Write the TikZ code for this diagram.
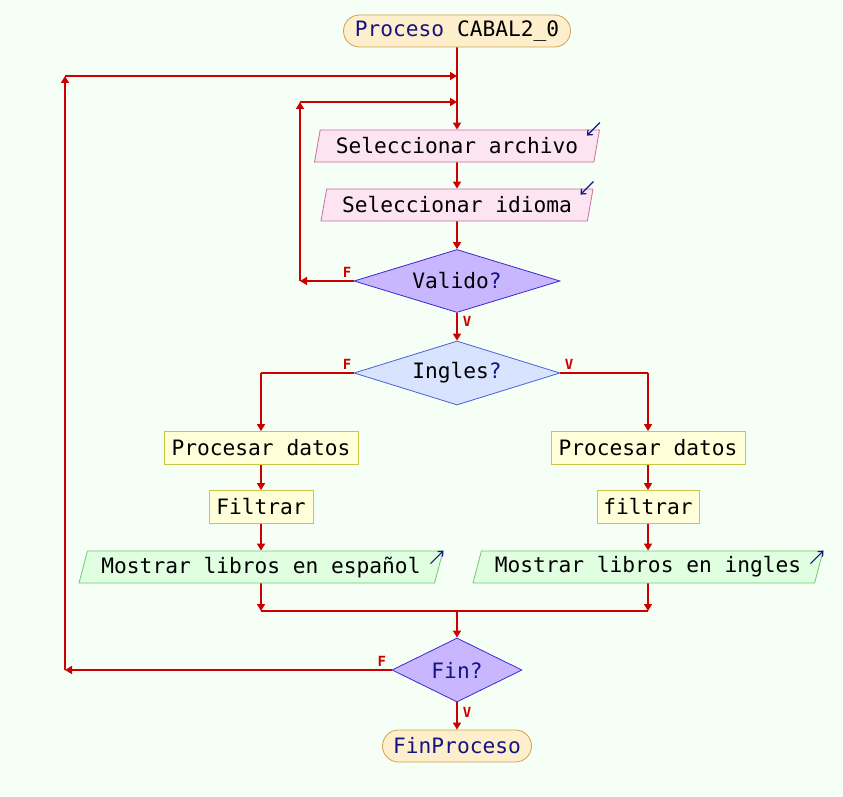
\documentclass[tikz,border=0pt]{standalone}
\usepackage{fontspec}
\setmonofont{DejaVu Sans Mono}
\usetikzlibrary{positioning, arrows.meta, shapes.geometric, calc}

\definecolor{fondo}{RGB}{246,255,246}
\definecolor{linea}{RGB}{204,0,0}
\definecolor{azul}{RGB}{20,20,130}
\definecolor{iniFill}{RGB}{253,239,203}
\definecolor{iniDraw}{RGB}{210,160,80}
\definecolor{leerFill}{RGB}{252,228,240}
\definecolor{leerDraw}{RGB}{200,110,160}
\definecolor{procFill}{RGB}{255,255,218}
\definecolor{procDraw}{RGB}{200,200,70}
\definecolor{escFill}{RGB}{224,255,224}
\definecolor{escDraw}{RGB}{110,200,110}
\definecolor{decFill}{RGB}{200,182,255}
\definecolor{decDraw}{RGB}{60,40,210}
\definecolor{segFill}{RGB}{216,228,255}
\definecolor{segDraw}{RGB}{70,100,210}

\begin{document}
\begin{tikzpicture}[
    x=1pt, y=-1pt,
    every node/.style={font=\ttfamily\fontsize{21.2}{22}\selectfont, inner sep=0pt},
    flecha/.style={draw=linea, line width=1.6pt, -{Triangle[length=7pt,width=8pt]}},
    linea/.style={draw=linea, line width=1.6pt},
    icono/.style={draw=azul, line width=1.2pt, -{Straight Barb[length=4pt,width=7pt]}},
    etiq/.style={text=linea, font=\ttfamily\bfseries\fontsize{14}{14}\selectfont},
    inicio/.style={draw=iniDraw, fill=iniFill, line width=0.8pt, rounded corners=16pt, minimum height=32pt},
    leer/.style={trapezium, trapezium left angle=71, trapezium right angle=109, trapezium stretches body,
        draw=leerDraw, fill=leerFill, line width=0.8pt, minimum height=32pt},
    proc/.style={rectangle, draw=procDraw, fill=procFill, line width=0.8pt, minimum height=33pt},
    escribir/.style={trapezium, trapezium left angle=68, trapezium right angle=112, trapezium stretches body,
        draw=escDraw, fill=escFill, line width=0.8pt, minimum height=32pt},
    decision/.style={diamond, aspect=3.3, line width=0.8pt, minimum width=206pt, minimum height=63pt}
]
    % fondo y margenes
    \fill[fondo] (0,0) rectangle (843,797);
    \useasboundingbox (0,0) rectangle (843,797);

    % nodos
    \node[inicio, minimum width=227pt] (ini) at (457,31) {\textcolor{azul}{Proceso} CABAL2\_0};
    \node[leer, minimum width=285pt] (selA) at (457,146) {Seleccionar archivo};
    \node[leer, minimum width=272pt] (selI) at (457,205) {Seleccionar idioma};
    \node[decision, draw=decDraw, fill=decFill] (valido) at (457,281) {Valido\textcolor{azul}{?}};
    \node[decision, draw=segDraw, fill=segFill, minimum height=64pt] (ingles) at (457,373) {Ingles\textcolor{azul}{?}};

    \node[proc, minimum width=194pt] (procI) at (261,448) {Procesar datos};
    \node[proc, minimum width=104pt] (filI) at (261,507) {Filtrar};
    \node[escribir, minimum width=364pt] (mosI) at (261,567) {Mostrar libros en español};

    \node[proc, minimum width=194pt] (procD) at (648,448) {Procesar datos};
    \node[proc, minimum width=102pt] (filD) at (648,507) {filtrar};
    \node[escribir, minimum width=350pt] (mosD) at (648,567) {Mostrar libros en ingles};

    \node[decision, draw=decDraw, fill=decFill, aspect=2, minimum width=130pt, minimum height=64pt] (fin) at (457,670) {\textcolor{azul}{Fin?}};
    \node[inicio, minimum width=149pt] (fp) at (457,746) {\textcolor{azul}{FinProceso}};

    % iconos de lectura / escritura
    \draw[icono] ($(selA.top right corner)+(0,-7)$) -- ++(-13,13);
    \draw[icono] ($(selI.top right corner)+(0,-7)$) -- ++(-13,13);
    \draw[icono] ($(mosI.top right corner)+(-13,13)$) -- ++(13,-13);
    \draw[icono] ($(mosD.top right corner)+(-13,13)$) -- ++(13,-13);

    % puntos de paso
    \coordinate (o1) at (65,670);
    \coordinate (o2) at (65,76);
    \coordinate (o3) at (457,76);
    \coordinate (r1) at (300,281);
    \coordinate (r2) at (300,102);
    \coordinate (r3) at (457,102);
    \coordinate (fI) at (261,373);
    \coordinate (fD) at (648,373);
    \coordinate (jI) at (261,611);
    \coordinate (jD) at (648,611);
    \coordinate (jM) at (457,611);

    % conectores
    \draw[flecha] (ini.south) -- (selA.north);
    \draw[flecha] (selA.south) -- (selI.north);
    \draw[flecha] (selI.south) -- (valido.north);
    \draw[flecha] (valido.south) -- (ingles.north) node[etiq, pos=0.3, right=5pt] {V};
    \draw[flecha] (valido.west) -- (r1) node[etiq, pos=0.12, above=3pt] {F};
    \draw[flecha] (r1) -- (r2);
    \draw[flecha] (r2) -- (r3);

    \draw[linea] (ingles.west) -- (fI) node[etiq, pos=0.07, above=3pt] {F};
    \draw[flecha] (fI) -- (procI.north);
    \draw[linea] (ingles.east) -- (fD) node[etiq, pos=0.1, above=3pt] {V};
    \draw[flecha] (fD) -- (procD.north);

    \draw[flecha] (procI.south) -- (filI.north);
    \draw[flecha] (filI.south) -- (mosI.north);
    \draw[flecha] (procD.south) -- (filD.north);
    \draw[flecha] (filD.south) -- (mosD.north);

    \draw[flecha] (mosI.south) -- (jI);
    \draw[flecha] (mosD.south) -- (jD);
    \draw[linea] (jI) -- (jD);
    \draw[flecha] (jM) -- (fin.north);

    \draw[flecha] (fin.west) -- (o1) node[etiq, pos=0.03, above=3pt] {F};
    \draw[flecha] (o1) -- (o2);
    \draw[flecha] (o2) -- (o3);
    \draw[flecha] (fin.south) -- (fp.north) node[etiq, pos=0.35, right=5pt] {V};
\end{tikzpicture}
\end{document}
